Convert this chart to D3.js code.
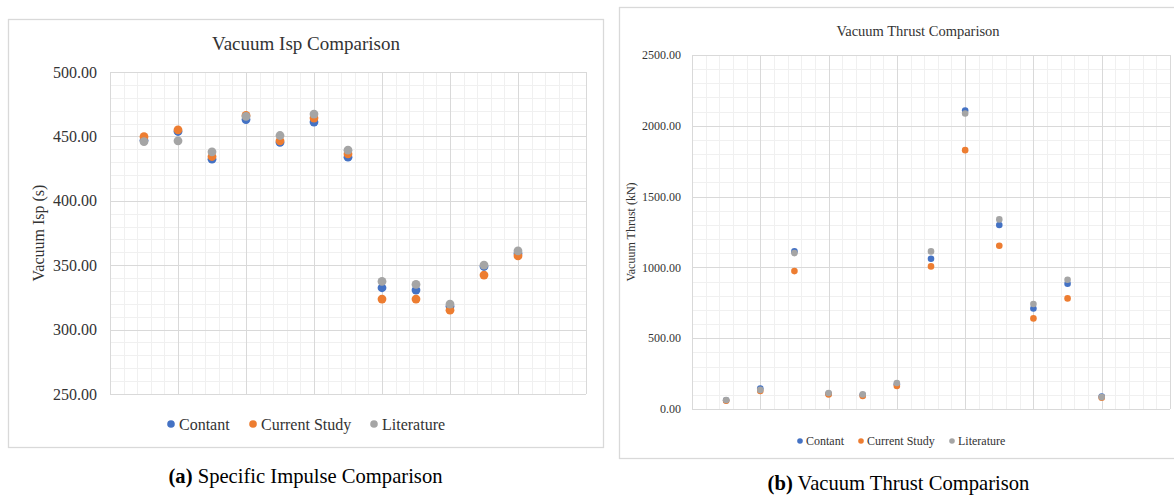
<!DOCTYPE html>
<html>
<head>
<meta charset="utf-8">
<script src="https://d3js.org/d3.v7.min.js"></script>
<style>
  body { margin: 0; background: #fff; }
</style>
</head>
<body>
<svg id="chart" width="1174" height="498"></svg>
<script>
// series + point positions (same x slots for both charts)
var seriesNames = ["Contant", "Current Study", "Literature"];
var seriesColors = ["#4472C4", "#ED7D31", "#A5A5A5"];
var xPos = [0.5, 1, 1.5, 2, 2.5, 3, 3.5, 4, 4.5, 5, 5.5, 6];

// vacuum Isp (s)
var ispContant   = [447.0, 453.8, 432.3, 463.1, 445.3, 461.1, 433.9, 332.5, 330.7, 318.2, 349.0, 359.0];
var ispCurrent   = [449.8, 455.1, 434.4, 466.3, 446.6, 464.2, 436.4, 323.7, 323.7, 315.1, 342.3, 357.2];
var ispLiterature = [446.0, 446.6, 438.0, 465.5, 450.7, 467.3, 439.3, 337.4, 335.1, 319.8, 350.1, 361.1];
var ispTicks = [250, 300, 350, 400, 450, 500];

// vacuum thrust (kN)
var thrustContant   = [62, 145, 1113, 108, 98, 175, 1061, 2108, 1299, 710, 885, 88];
var thrustCurrent   = [58, 128, 974, 103, 92, 162, 1007, 1828, 1153, 640, 781, 80];
var thrustLiterature = [64, 135, 1101, 113, 103, 184, 1113, 2087, 1339, 741, 913, 84];
var thrustTicks = [0, 500, 1000, 1500, 2000, 2500];

var svg = d3.select("#chart");
var fmt = d3.format(".2f");
var serif = "\"Liberation Serif\"";

function drawPanel(cfg) {
  var g = svg.append("g");

  // outer frame
  g.append("rect")
    .attr("x", cfg.box[0] + 0.5).attr("y", cfg.box[1] + 0.5)
    .attr("width", cfg.box[2] - cfg.box[0]).attr("height", cfg.box[3] - cfg.box[1])
    .attr("fill", "#fff").attr("stroke", "#d9d9d9").attr("stroke-width", 1.3);

  var x = d3.scaleLinear().domain([0, 7]).range([cfg.plot[0], cfg.plot[1]]);
  var y = d3.scaleLinear().domain([cfg.ticks[0], cfg.ticks[cfg.ticks.length - 1]])
    .range([cfg.plot[3], cfg.plot[2]]);

  // minor grid first, then major
  var yMinor = d3.range(y.domain()[0], y.domain()[1] + 1e-9, cfg.minorY);
  var xMinor = d3.range(0, 7 + 1e-9, 0.2);
  g.selectAll(".hmin").data(yMinor).enter().append("line")
    .attr("x1", cfg.plot[0]).attr("x2", cfg.plot[1])
    .attr("y1", function(d) { return Math.round(y(d)) + 0.5; })
    .attr("y2", function(d) { return Math.round(y(d)) + 0.5; })
    .attr("stroke", "#f0f0f0");
  g.selectAll(".vmin").data(xMinor).enter().append("line")
    .attr("y1", cfg.plot[2]).attr("y2", cfg.plot[3])
    .attr("x1", function(d) { return Math.round(x(d)) + 0.5; })
    .attr("x2", function(d) { return Math.round(x(d)) + 0.5; })
    .attr("stroke", "#f0f0f0");

  g.selectAll(".hmaj").data(cfg.ticks).enter().append("line")
    .attr("x1", cfg.plot[0]).attr("x2", cfg.plot[1])
    .attr("y1", function(d) { return Math.round(y(d)) + 0.5; })
    .attr("y2", function(d) { return Math.round(y(d)) + 0.5; })
    .attr("stroke", "#d9d9d9");
  g.selectAll(".vmaj").data(d3.range(0, 8)).enter().append("line")
    .attr("y1", cfg.plot[2]).attr("y2", cfg.plot[3])
    .attr("x1", function(d) { return Math.round(x(d)) + 0.5; })
    .attr("x2", function(d) { return Math.round(x(d)) + 0.5; })
    .attr("stroke", "#d9d9d9");

  // y axis labels
  g.selectAll(".ylab").data(cfg.ticks).enter().append("text")
    .attr("x", cfg.plot[0] - cfg.labelGap)
    .attr("y", function(d) { return y(d); })
    .attr("dy", "0.35em")
    .attr("text-anchor", "end")
    .style("font-family", serif)
    .style("font-size", cfg.tickSize + "px")
    .attr("fill", "#333")
    .text(function(d) { return fmt(d); });

  // titles
  g.append("text")
    .attr("x", cfg.titleX).attr("y", cfg.titleY)
    .attr("text-anchor", "middle")
    .style("font-family", serif)
    .style("font-size", cfg.titleSize + "px")
    .attr("fill", "#333")
    .text(cfg.title);

  g.append("text")
    .attr("transform", "translate(" + cfg.yTitleX + "," + cfg.yTitleY + ") rotate(-90)")
    .attr("text-anchor", "middle")
    .attr("dy", "0.35em")
    .style("font-family", serif)
    .style("font-size", cfg.tickSize + "px")
    .attr("fill", "#333")
    .text(cfg.yTitle);

  // points
  cfg.series.forEach(function(vals, si) {
    g.selectAll(".pt" + si).data(vals).enter().append("circle")
      .attr("cx", function(d, i) { return x(xPos[i]); })
      .attr("cy", function(d) { return y(d); })
      .attr("r", cfg.r)
      .attr("fill", seriesColors[si]);
  });

  // legend
  seriesNames.forEach(function(name, si) {
    g.append("circle")
      .attr("cx", cfg.legendX[si]).attr("cy", cfg.legendY)
      .attr("r", cfg.legendR)
      .attr("fill", seriesColors[si]);
    g.append("text")
      .attr("x", cfg.legendX[si] + cfg.legendGap).attr("y", cfg.legendY)
      .attr("dy", "0.35em")
      .style("font-family", serif)
      .style("font-size", cfg.tickSize + "px")
      .attr("fill", "#333")
      .text(name);
  });

  // caption below frame
  var cap = svg.append("text")
    .attr("x", cfg.capX).attr("y", cfg.capY)
    .attr("text-anchor", "middle")
    .style("font-family", serif)
    .style("font-size", "20.6px")
    .attr("fill", "#000");
  cap.append("tspan").style("font-weight", "bold").text(cfg.capTag);
  cap.append("tspan").text(" " + cfg.capText);
}

drawPanel({
  box: [8, 19, 603, 447],
  plot: [110, 586, 72, 394],
  ticks: ispTicks, minorY: 10,
  series: [ispContant, ispCurrent, ispLiterature],
  r: 4.4, tickSize: 16, labelGap: 13,
  title: "Vacuum Isp Comparison", titleX: 306, titleY: 50, titleSize: 19,
  yTitle: "Vacuum Isp (s)", yTitleX: 38, yTitleY: 233,
  legendX: [171, 253, 374], legendY: 424, legendR: 3.8, legendGap: 8,
  capX: 305.5, capY: 483, capTag: "(a)", capText: "Specific Impulse Comparison"
});

drawPanel({
  box: [619, 7, 1180, 458],
  plot: [692, 1170, 55, 409],
  ticks: thrustTicks, minorY: 100,
  series: [thrustContant, thrustCurrent, thrustLiterature],
  r: 3.3, tickSize: 12, labelGap: 11,
  title: "Vacuum Thrust Comparison", titleX: 918, titleY: 36, titleSize: 14.5,
  yTitle: "Vacuum Thrust (kN)", yTitleX: 631, yTitleY: 232,
  legendX: [800, 861, 952], legendY: 441, legendR: 2.8, legendGap: 6,
  capX: 898.5, capY: 490, capTag: "(b)", capText: "Vacuum Thrust Comparison"
});
</script>
</body>
</html>
